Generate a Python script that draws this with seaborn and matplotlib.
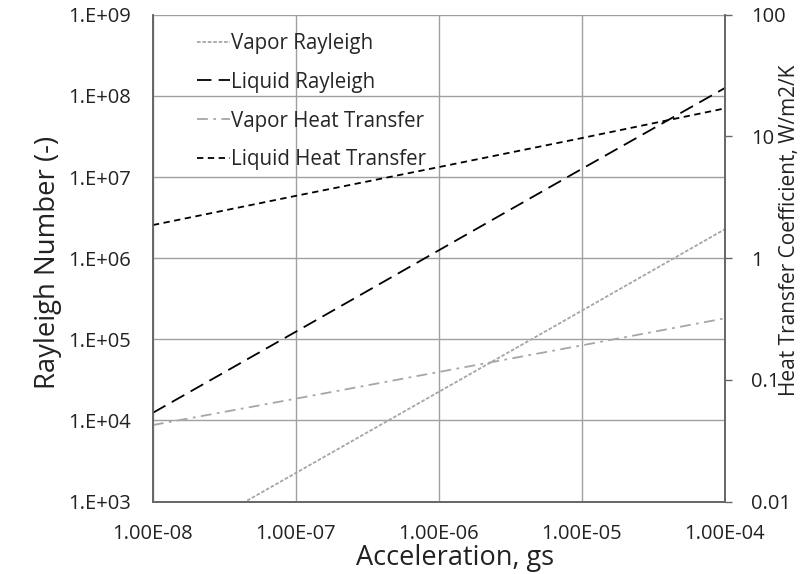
import matplotlib
matplotlib.use("Agg")
import matplotlib.pyplot as plt
import seaborn as sns
import pandas as pd
from matplotlib.ticker import FixedLocator, FixedFormatter, NullLocator

# ---- data ----
accel = [1e-8, 1e-7, 1e-6, 1e-5, 1e-4]
vapor_rayleigh = [2.25e2, 2.25e3, 2.25e4, 2.25e5, 2.27e6]
liquid_rayleigh = [1.24e4, 1.24e5, 1.25e6, 1.26e7, 1.25e8]
vapor_ht = [0.0425, 0.070, 0.116, 0.192, 0.32]
liquid_ht = [1.87, 3.25, 5.6, 9.7, 17.0]

x_ticks = [1e-8, 1e-7, 1e-6, 1e-5, 1e-4]
x_ticklabels = ["1.00E-08", "1.00E-07", "1.00E-06", "1.00E-05", "1.00E-04"]
yl_ticks = [1e3, 1e4, 1e5, 1e6, 1e7, 1e8, 1e9]
yl_ticklabels = ["1.E+03", "1.E+04", "1.E+05", "1.E+06", "1.E+07", "1.E+08", "1.E+09"]
yr_ticks = [0.01, 0.1, 1, 10, 100]
yr_ticklabels = ["0.01", "0.1", "1", "10", "100"]

sns.set_style("white")
plt.rcParams['font.family'] = ['Open Sans', 'DejaVu Sans']

fig = plt.figure(figsize=(8.09, 5.74), dpi=100)
ax = fig.add_axes([0.189, 0.1263, 0.707, 0.848])
ax2 = ax.twinx()

gray = "#a6a6a6"
df_l = pd.DataFrame({
    "x": accel * 2,
    "y": vapor_rayleigh + liquid_rayleigh,
    "series": ["Vapor Rayleigh"] * 5 + ["Liquid Rayleigh"] * 5,
})
df_r = pd.DataFrame({
    "x": accel * 2,
    "y": vapor_ht + liquid_ht,
    "series": ["Vapor Heat Transfer"] * 5 + ["Liquid Heat Transfer"] * 5,
})

sns.lineplot(data=df_l, x="x", y="y", hue="series", style="series",
             palette={"Vapor Rayleigh": gray, "Liquid Rayleigh": "black"},
             dashes={"Vapor Rayleigh": (2, 1), "Liquid Rayleigh": (8, 4)},
             linewidth=1.3, ax=ax, legend=False)
sns.lineplot(data=df_r, x="x", y="y", hue="series", style="series",
             palette={"Vapor Heat Transfer": gray, "Liquid Heat Transfer": "black"},
             dashes={"Vapor Heat Transfer": (6, 3, 1.5, 3), "Liquid Heat Transfer": (3.5, 2.5)},
             linewidth=1.3, ax=ax2, legend=False)

ax.set_xscale("log")
ax.set_yscale("log")
ax2.set_yscale("log")
ax.set_xlim(1e-8, 1e-4)
ax.set_ylim(1e3, 1e9)
ax2.set_ylim(0.01, 100)

ax.xaxis.set_major_locator(FixedLocator(x_ticks))
ax.xaxis.set_major_formatter(FixedFormatter(x_ticklabels))
ax.xaxis.set_minor_locator(NullLocator())
ax.yaxis.set_major_locator(FixedLocator(yl_ticks))
ax.yaxis.set_major_formatter(FixedFormatter(yl_ticklabels))
ax.yaxis.set_minor_locator(NullLocator())
ax2.yaxis.set_major_locator(FixedLocator(yr_ticks))
ax2.yaxis.set_major_formatter(FixedFormatter(yr_ticklabels))
ax2.yaxis.set_minor_locator(NullLocator())

ax.grid(True, which="major", color="#a0a0a0", linewidth=1.0)
ax.set_axisbelow(True)

ax.tick_params(axis="both", length=0, labelsize=14.5, colors="#222222", pad=16)
ax2.yaxis.set_tick_params(which="major", length=5, width=1, color="#666666", labelsize=14.5,
                          labelcolor="#222222", direction="out", pad=14,
                          right=True, labelright=True, left=False, labelleft=False)

spine_c = "#666666"
for a in (ax, ax2):
    a.spines["top"].set_visible(False)
    for s in ["left", "bottom", "right"]:
        a.spines[s].set_color(spine_c)
        a.spines[s].set_linewidth(1.2)

ax.set_xlabel("")
ax.set_ylabel("Rayleigh Number (-)", fontsize=19.8, color="#222222")
ax.yaxis.set_label_coords(-0.159, 0.492)
ax2.set_ylabel("")
fig.text(455 / 809, 1 - 558 / 574, "Acceleration, gs",
         fontsize=19.5, color="#222222", ha="center", va="center")
fig.text(790 / 809, 1 - 230 / 574, "Heat Transfer Coefficient, W/m2/K",
         rotation=90, fontsize=15, color="#222222", ha="center", va="center")

# legend
handles = ax.get_lines()[:2] + ax2.get_lines()[:2]
labels = ["Vapor Rayleigh", "Liquid Rayleigh", "Vapor Heat Transfer", "Liquid Heat Transfer"]
leg = ax2.legend(handles, labels, loc="upper left", bbox_to_anchor=(0.077, 0.963),
                 frameon=False, fontsize=14.8, handlelength=1.6, handletextpad=0.05,
                 labelspacing=0.87, borderpad=0, borderaxespad=0)

fig.savefig("out.png", dpi=100)
